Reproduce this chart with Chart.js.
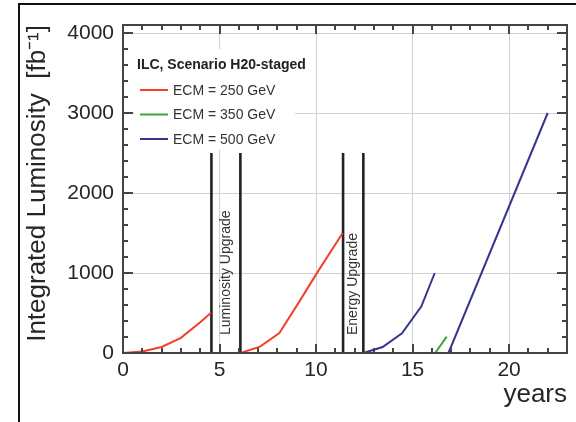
<!DOCTYPE html>
<html>
<head>
<meta charset="utf-8">
<script src="https://cdn.jsdelivr.net/npm/chart.js@4.4.0/dist/chart.umd.min.js"></script>
<style>
  html, body { margin: 0; padding: 0; background: #fff; }
  #wrap { position: relative; width: 576px; height: 422px; }
</style>
</head>
<body>
<div id="wrap"><canvas id="myChart" width="576" height="422"></canvas></div>
<script>
// Integrated luminosity (fb^-1) vs years, ILC scenario H20-staged
const red1Years = [0, 1, 2, 3, 4, 4.55];
const red1Lumi  = [0, 20, 75, 190, 385, 500];
const red2Years = [6.1, 7.1, 8.1, 9.1, 10.1, 11.38];
const red2Lumi  = [0, 80, 250, 630, 1020, 1500];
const greenYears = [16.17, 16.77];
const greenLumi  = [0, 205];
const blue1Years = [12.45, 13.45, 14.45, 15.45, 16.15];
const blue1Lumi  = [0, 75, 245, 580, 1000];
const blue2Years = [16.86, 22];
const blue2Lumi  = [0, 3000];

// upgrade periods (vertical markers) and their labels
const upgradeYears  = [4.58, 6.08, 11.4, 12.45];
const upgradeHeight = 2500;
const upgradeLabels = ['Luminosity Upgrade', 'Energy Upgrade'];

const legendTitle  = 'ILC, Scenario H20-staged';
const legendLabels = ['ECM = 250 GeV', 'ECM = 350 GeV', 'ECM = 500 GeV'];

const xTicks = [0, 5, 10, 15, 20];
const yTicks = [0, 1000, 2000, 3000, 4000];

const RED = '#f2402a';
const GREEN = '#3aa53a';
const BLUE = '#35358e';
const TEXT = '#262626';
const FONT = "'Liberation Sans', Arial, Helvetica, sans-serif";

function pts(xs, ys) {
    return xs.map((v, i) => ({ x: v, y: ys[i] }));
}

const datasets = [
    { data: pts(red1Years, red1Lumi), borderColor: RED },
    { data: pts(red2Years, red2Lumi), borderColor: RED },
    { data: pts(greenYears, greenLumi), borderColor: GREEN },
    { data: pts(blue1Years, blue1Lumi), borderColor: BLUE },
    { data: pts(blue2Years, blue2Lumi), borderColor: BLUE }
];
for (const yr of upgradeYears) {
    datasets.push({ data: [{ x: yr, y: 0 }, { x: yr, y: upgradeHeight }], borderColor: '#222', borderWidth: 2.6 });
}

// white box behind the legend, drawn over the grid
const legendBox = {
    id: 'legendBox',
    beforeDatasetsDraw(chart) {
        const ctx = chart.ctx;
        ctx.save();
        ctx.fillStyle = '#fff';
        ctx.fillRect(134, 49, 161, 101);
        ctx.restore();
    }
};

// frame, inward ticks, legend text, upgrade labels, outer border
const decor = {
    id: 'decor',
    afterDraw(chart) {
        const { ctx, chartArea: a, scales: { x, y } } = chart;
        ctx.save();

        // outer picture border
        ctx.strokeStyle = '#111';
        ctx.lineWidth = 2;
        ctx.strokeRect(19, 4, 700, 700);

        // plot frame
        ctx.strokeStyle = '#444';
        ctx.lineWidth = 2;
        ctx.strokeRect(a.left, a.top, a.right - a.left, a.bottom - a.top);

        // ticks on all four sides, pointing inward
        ctx.beginPath();
        for (let v = 1; v < x.max; v++) {
            const px = Math.round(x.getPixelForValue(v));
            const len = v % 5 === 0 ? 9 : 5;
            ctx.moveTo(px, a.bottom); ctx.lineTo(px, a.bottom - len);
            ctx.moveTo(px, a.top); ctx.lineTo(px, a.top + len);
        }
        for (let v = 200; v < y.max; v += 200) {
            const py = Math.round(y.getPixelForValue(v));
            const len = v % 1000 === 0 ? 10 : 5;
            ctx.moveTo(a.left, py); ctx.lineTo(a.left + len, py);
            ctx.moveTo(a.right, py); ctx.lineTo(a.right - len, py);
        }
        ctx.stroke();

        // legend
        ctx.fillStyle = '#222';
        ctx.textBaseline = 'middle';
        ctx.textAlign = 'left';
        ctx.font = 'bold 14px ' + FONT;
        ctx.fillText(legendTitle, 137, 65);
        ctx.font = '14px ' + FONT;
        const cols = [RED, GREEN, BLUE];
        legendLabels.forEach((lab, i) => {
            const ly = 90 + i * 24.5;
            ctx.strokeStyle = cols[i];
            ctx.lineWidth = 2;
            ctx.beginPath();
            ctx.moveTo(140, ly); ctx.lineTo(168, ly);
            ctx.stroke();
            ctx.fillStyle = '#333';
            ctx.fillText(lab, 173, ly + 1);
        });

        // upgrade labels, rotated, between the marker lines
        ctx.font = '14px ' + FONT;
        ctx.fillStyle = '#333';
        for (let i = 0; i < upgradeLabels.length; i++) {
            const mid = (upgradeYears[2 * i] + upgradeYears[2 * i + 1]) / 2;
            const px = x.getPixelForValue(mid);
            const py = y.getPixelForValue(225);
            ctx.save();
            ctx.translate(px, py);
            ctx.rotate(-Math.PI / 2);
            ctx.textAlign = 'left';
            ctx.textBaseline = 'middle';
            ctx.fillText(upgradeLabels[i], 0, 0);
            ctx.restore();
        }
        ctx.restore();
    }
};

const config = {
    type: 'line',
    data: { datasets: datasets },
    options: {
        responsive: false,
        animation: false,
        layout: { padding: { left: 0, top: 25, right: 9, bottom: 0 } },
        elements: {
            point: { radius: 0 },
            line: { borderWidth: 2, tension: 0, fill: false }
        },
        plugins: {
            legend: { display: false },
            tooltip: { enabled: false }
        },
        scales: {
            x: {
                type: 'linear',
                min: 0,
                max: 23,
                afterFit(s) { s.height = 69; },
                afterBuildTicks(s) { s.ticks = xTicks.map(v => ({ value: v })); },
                ticks: {
                    font: { family: FONT, size: 21 }, color: TEXT, padding: 5, maxRotation: 0,
                    callback: (v) => String(v)
                },
                grid: { color: '#d0d0d0', lineWidth: 1, drawTicks: false },
                border: { display: false },
                title: {
                    display: true, text: 'years', align: 'end', color: TEXT,
                    font: { family: FONT, size: 26 }, padding: { top: 0, bottom: 12 }
                }
            },
            y: {
                type: 'linear',
                min: 0,
                max: 4100,
                afterFit(s) { s.width = 123; },
                afterBuildTicks(s) { s.ticks = yTicks.map(v => ({ value: v })); },
                ticks: {
                    font: { family: FONT, size: 21 }, color: TEXT, padding: 9,
                    callback: (v) => String(v)
                },
                grid: { color: '#d0d0d0', lineWidth: 1, drawTicks: false },
                border: { display: false },
                title: {
                    display: true, text: 'Integrated Luminosity  [fb\u207B\u00B9]', align: 'end', color: TEXT,
                    font: { family: FONT, size: 26 }, padding: { top: 22, bottom: 0 }
                }
            }
        }
    },
    plugins: [legendBox, decor]
};

const myChart = new Chart(document.getElementById('myChart'), config);
</script>
</body>
</html>
